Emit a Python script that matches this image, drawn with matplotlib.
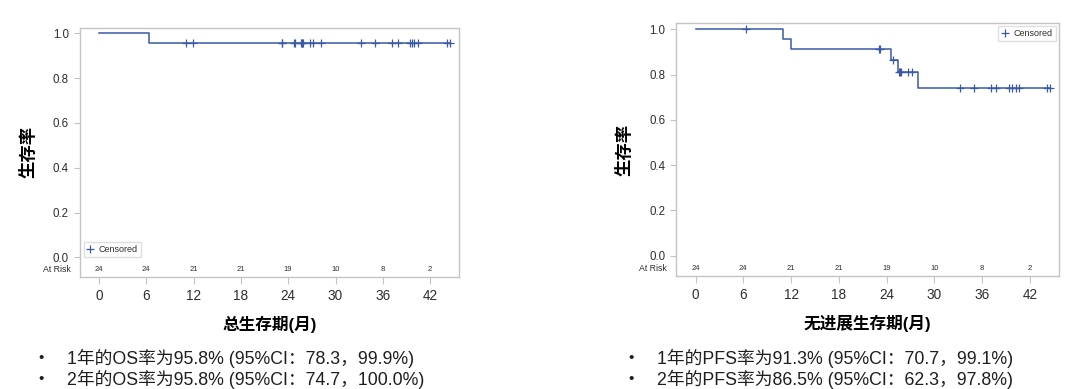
import numpy as np
import matplotlib
matplotlib.use("Agg")
import matplotlib.pyplot as plt

plt.rcParams['font.family'] = ['Liberation Sans', 'Noto Sans CJK SC', 'DejaVu Sans']

# --- data ---
months = [0, 6, 12, 18, 24, 30, 36, 42]
y_ticks = [0.0, 0.2, 0.4, 0.6, 0.8, 1.0]

# OS (left panel)
os_step_t = [0, 6.35]
os_step_s = [1.0, 0.958]
os_end = 44.5
os_cens = [11.07, 11.95, 23.2, 23.25, 24.7, 24.9, 25.6, 25.7, 25.8, 25.9, 26.8, 27.2,
           28.1, 33.2, 35.05, 37.2, 37.9, 39.4, 39.7, 40.0, 40.4, 44.15, 44.5]
os_risk = [24, 24, 21, 21, 19, 10, 8, 2]
os_notes = ["1年的OS率为95.8% (95%CI：78.3，99.9%)",
            "2年的OS率为95.8% (95%CI：74.7，100.0%)"]

# PFS (right panel)
pfs_step_t = [0, 10.95, 11.95, 24.6, 25.45, 28.0]
pfs_step_s = [1.0, 0.957, 0.913, 0.865, 0.813, 0.740]
pfs_end = 44.5
pfs_cens = [6.3, 23.1, 23.2, 24.85, 25.6, 25.7, 25.8, 26.7, 27.2, 33.2, 35.0, 37.05,
            37.7, 39.35, 39.8, 40.2, 40.6, 44.2, 44.5]
pfs_risk = [24, 24, 21, 21, 19, 10, 8, 2]
pfs_notes = ["1年的PFS率为91.3% (95%CI：70.7，99.1%)",
             "2年的PFS率为86.5% (95%CI：62.3，97.8%)"]

line_col = '#3b5aa6'
grey = '#c4c4c4'
txt = '#2e2e2e'


def km_panel(ax, step_t, step_s, end_t, cens, risk, xlabel, leg_loc, leg_anchor):
    t = np.array(step_t + [end_t])
    s = np.array(step_s + [step_s[-1]])
    ax.step(t, s, where='post', color=line_col, lw=1.1)
    # censor marks sit on the step curve
    idx = np.searchsorted(step_t, cens, side='right') - 1
    cy = np.array(step_s)[idx]
    ax.plot(cens, cy, '+', color=line_col, ms=5.5, mew=0.9, label='Censored')
    for m, r in zip(months, risk):
        ax.text(m, -0.055, str(r), ha='center', va='center', fontsize=5.5, color=txt)
    ax.text(-0.025, -0.055, 'At Risk', transform=ax.get_yaxis_transform(),
            ha='right', va='center', fontsize=6.3, color=txt)
    ax.set_xlim(-2.4, 45.6)
    ax.set_ylim(-0.088, 1.026)
    ax.set_xticks(months)
    ax.set_yticks(y_ticks)
    ax.set_yticklabels(['%.1f' % v for v in y_ticks])
    ax.tick_params(axis='y', labelsize=8.3, colors=grey, labelcolor=txt, length=4, width=0.8, pad=4)
    ax.tick_params(axis='x', labelsize=9.8, colors=grey, labelcolor=txt, length=5, width=0.8, pad=4)
    for sp in ax.spines.values():
        sp.set_color(grey)
        sp.set_linewidth(1.0)
    ax.set_xlabel(xlabel, fontsize=12, fontweight='bold', labelpad=9)
    ax.set_ylabel('生存率', fontsize=12.5, fontweight='bold', labelpad=12)
    leg = ax.legend(loc=leg_loc, bbox_to_anchor=leg_anchor, borderaxespad=0, fontsize=6.5,
                    handlelength=0.8, handletextpad=0.5, borderpad=0.35, fancybox=False,
                    frameon=True, edgecolor='#d8d8d8')
    for tx in leg.get_texts():
        tx.set_color(txt)


fig = plt.figure(figsize=(10.8, 3.89), dpi=100)
ax1 = fig.add_axes([0.074, 0.288, 0.3506, 0.641])
ax2 = fig.add_axes([0.6263, 0.2913, 0.3539, 0.6486])

km_panel(ax1, os_step_t, os_step_s, os_end, os_cens, os_risk, '总生存期(月)',
         'lower left', (0.01, 0.08))
km_panel(ax2, pfs_step_t, pfs_step_s, pfs_end, pfs_cens, pfs_risk, '无进展生存期(月)',
         'upper right', (0.992, 0.99))

# bullet notes under each panel
for bx, tx0, notes in [(41, 67, os_notes), (631, 657, pfs_notes)]:
    for k, note in enumerate(notes):
        yy = 1 - (358 + 21.5 * k) / 389
        fig.text(bx / 1080, yy, '•', fontsize=11, ha='center', va='center', color='#1e1e1e')
        fig.text(tx0 / 1080, yy, note, fontsize=12.8, ha='left', va='center', color='#1e1e1e')

fig.savefig('out.png', dpi=100)
